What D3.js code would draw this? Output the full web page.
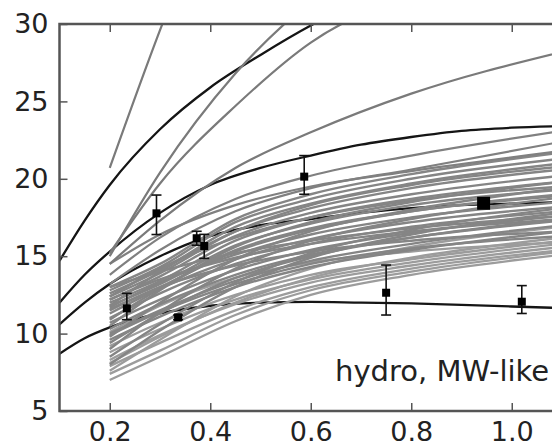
<!DOCTYPE html>
<html><head><meta charset="utf-8">
<script src="https://cdn.jsdelivr.net/npm/d3@7/dist/d3.min.js"></script>
<style>html,body{margin:0;padding:0;background:#fff;}svg{display:block;font-family:"DejaVu Sans",sans-serif;}</style>
</head><body>
<svg id="chart" width="552" height="448"></svg>
<script>
// ---------- data ----------
const xTicks = [0.2, 0.4, 0.6, 0.8, 1.0];
const yTicks = [5, 10, 15, 20, 25, 30];
const xTickLabels = ["0.2", "0.4", "0.6", "0.8", "1.0"];
const yTickLabels = ["5", "10", "15", "20", "25", "30"];

// black model curves
const blackX = [0.1, 0.15, 0.2, 0.3, 0.4, 0.5, 0.6, 0.7, 0.8, 0.9, 1.0, 1.1];
const blackA = [14.7, 17.3, 19.6, 23.2, 25.9, 28.0, 29.9, 31.5, 33.0, 34.3, 35.5, 36.6];
const blackB = [12.0, 13.8, 15.3, 17.8, 19.6, 20.7, 21.5, 22.2, 22.7, 23.1, 23.3, 23.4];
const blackC = [10.6, 12.0, 13.2, 15.0, 16.3, 17.0, 17.4, 17.8, 18.1, 18.3, 18.4, 18.5];
const blackD = [8.7, 9.7, 10.4, 11.3, 11.8, 12.0, 12.05, 12.0, 11.95, 11.85, 11.75, 11.65];

// grey simulated curves
const greyX = [0.2, 0.3, 0.45, 0.6, 0.8, 1.1];
const greyLow = [
  [7.0, 8.5, 10.8, 12.5, 13.8, 15.1],
  [7.4, 8.9, 11.2, 12.8, 14.0, 15.3],
  [7.9, 9.4, 11.5, 13.0, 14.2, 15.4],
  [8.1, 9.8, 12.0, 13.6, 14.9, 16.2],
  [8.3, 9.9, 11.9, 13.3, 14.4, 15.6],
  [8.8, 10.3, 12.2, 13.5, 14.6, 15.8],
  [9.2, 10.7, 12.5, 13.8, 14.8, 16.0],
  [7.6, 9.6, 12.4, 14.2, 15.6, 16.9],
  [10.1, 11.8, 13.6, 14.6, 15.3, 15.9]
];
const greyMid = [
  [9.6, 11.1, 13.0, 14.3, 15.4, 16.6],
  [9.4, 11.3, 13.6, 15.0, 16.2, 17.4],
  [9.9, 11.4, 13.2, 14.5, 15.5, 16.3],
  [10.0, 11.5, 13.4, 14.7, 15.8, 17.0],
  [10.3, 11.9, 13.8, 15.1, 16.2, 17.3],
  [10.7, 12.2, 14.1, 15.4, 16.5, 17.6],
  [10.9, 12.9, 15.3, 16.7, 17.9, 19.0],
  [11.0, 12.6, 14.5, 15.8, 16.9, 17.9],
  [11.3, 12.9, 14.8, 16.1, 17.2, 18.2],
  [11.7, 13.3, 15.1, 16.4, 17.5, 18.5],
  [12.4, 14.2, 16.2, 17.5, 18.6, 19.5],
  [8.0, 10.2, 13.0, 14.9, 16.4, 17.8],
  [9.0, 11.4, 14.2, 16.0, 17.4, 18.8],
  [10.5, 12.8, 15.6, 17.2, 18.5, 19.8],
  [11.5, 13.0, 14.4, 15.3, 16.0, 16.6],
  [12.2, 13.5, 14.9, 15.8, 16.6, 17.4],
  [13.0, 14.0, 15.2, 16.0, 16.8, 17.6],
  [8.5, 10.6, 13.3, 15.2, 16.7, 18.1],
  [9.8, 12.0, 14.8, 16.6, 18.0, 19.4],
  [11.8, 14.0, 16.6, 18.3, 19.6, 20.8]
];
const greyHigh = [
  [11.6, 13.0, 15.4, 16.8, 17.9, 18.9],
  [11.8, 13.2, 15.7, 17.1, 18.3, 19.3],
  [12.0, 13.4, 16.0, 17.5, 18.7, 19.8],
  [12.2, 13.7, 16.3, 17.8, 19.0, 20.2],
  [12.4, 13.9, 16.6, 18.1, 19.4, 20.6],
  [12.6, 14.1, 16.9, 18.4, 19.7, 21.0],
  [12.8, 14.3, 17.2, 18.7, 20.0, 21.3],
  [13.0, 14.5, 17.4, 19.0, 20.3, 21.7]
];
const greyUpper = [
  [13.8, 16.2, 18.7, 20.2, 21.5, 23.1],
  [13.2, 15.4, 17.9, 19.4, 20.6, 22.4],
  [14.5, 16.4, 18.3, 19.5, 20.5, 21.8]
];
const greySteep = [
  [20.7, 29.6, 41.5, 52.0, 64.0, 80.0],
  [15.0, 20.4, 26.8, 31.5, 36.0, 42.0],
  [15.2, 19.7, 24.7, 28.8, 32.0, 35.0],
  [14.5, 17.3, 20.7, 23.0, 25.5, 28.2]
];

// observed points
const ptX   = [0.234, 0.293, 0.336, 0.373, 0.388, 0.587, 0.750, 0.944, 1.020];
const ptY   = [11.63, 17.77, 11.05, 16.16, 15.66, 20.14, 12.64, 18.42, 12.06];
const ptHi  = [0.97, 1.18, 0.15, 0.45, 0.75, 1.36, 1.79, 0.0, 1.04];
const ptLo  = [0.73, 1.37, 0.15, 0.45, 0.80, 1.14, 1.44, 0.0, 0.76];
const ptBig = [false, false, false, false, false, false, false, true, false];

const label = "hydro, MW-like";

// ---------- drawing ----------
const svg = d3.select("#chart");
const x = d3.scaleLinear().domain([0.1, 1.1]).range([59.5, 562]);
const y = d3.scaleLinear().domain([5, 30]).range([411, 24]);

svg.append("defs").append("clipPath").attr("id", "clip")
  .append("rect").attr("x", x(0.1)).attr("y", y(30))
  .attr("width", x(1.1) - x(0.1)).attr("height", y(5) - y(30));

const plot = svg.append("g").attr("clip-path", "url(#clip)");
const line = d3.line().x(d => x(d[0])).y(d => y(d[1])).curve(d3.curveMonotoneX);

[blackA, blackB, blackC, blackD].forEach(vals => {
  plot.append("path").attr("d", line(blackX.map((xv, i) => [xv, vals[i]])))
    .attr("fill", "none").attr("stroke", "#151515").attr("stroke-width", 2.3);
});

function greyGroup(arr, color, w) {
  arr.forEach(vals => {
    plot.append("path").attr("d", line(greyX.map((xv, i) => [xv, vals[i]])))
      .attr("fill", "none").attr("stroke", color).attr("stroke-width", w);
  });
}
greyGroup(greyLow, "#9c9c9c", 2.3);
greyGroup(greyMid, "#858585", 2.4);
greyGroup(greyHigh, "#858585", 2.4);
greyGroup(greyUpper, "#808080", 2.2);
greyGroup(greySteep, "#7a7a7a", 2.2);

// error bars + points
const pts = svg.append("g");
ptX.forEach((xv, i) => {
  const cx = x(xv), cy = y(ptY[i]);
  if (ptHi[i] > 0 || ptLo[i] > 0) {
    const yt = y(ptY[i] + ptHi[i]), yb = y(ptY[i] - ptLo[i]);
    pts.append("line").attr("x1", cx).attr("x2", cx).attr("y1", yt).attr("y2", yb)
      .attr("stroke", "#111").attr("stroke-width", 1.6);
    [yt, yb].forEach(yy => pts.append("line").attr("x1", cx - 5).attr("x2", cx + 5)
      .attr("y1", yy).attr("y2", yy).attr("stroke", "#111").attr("stroke-width", 1.6));
  }
  const s = ptBig[i] ? 13 : 8;
  pts.append("rect").attr("x", cx - s / 2).attr("y", cy - s / 2)
    .attr("width", s).attr("height", s).attr("fill", "#000");
});

// frame
svg.append("rect").attr("x", x(0.1)).attr("y", y(30))
  .attr("width", x(1.1) - x(0.1)).attr("height", y(5) - y(30))
  .attr("fill", "none").attr("stroke", "#555").attr("stroke-width", 2.5);

// axes
const fs = "27px";
const gx = svg.append("g").attr("transform", `translate(0,${y(5)})`)
  .call(d3.axisBottom(x).tickValues(xTicks).tickFormat((d, i) => xTickLabels[i]).tickSize(-8).tickPadding(11));
const gxt = svg.append("g").attr("transform", `translate(0,${y(30)})`)
  .call(d3.axisTop(x).tickValues(xTicks).tickFormat("").tickSize(-8));
const gy = svg.append("g").attr("transform", `translate(${x(0.1)},0)`)
  .call(d3.axisLeft(y).tickValues(yTicks).tickFormat((d, i) => yTickLabels[i]).tickSize(-8).tickPadding(11));
[gx, gxt, gy].forEach(g => {
  g.select(".domain").remove();
  g.selectAll(".tick line").attr("stroke", "#555").attr("stroke-width", 1.5);
  g.selectAll("text").attr("fill", "#222").style("font-size", fs)
    .style("font-family", "'DejaVu Sans', sans-serif");
});

svg.append("text").attr("x", 335).attr("y", 381).text(label)
  .attr("fill", "#222").style("font-size", "29px")
  .style("font-family", "'DejaVu Sans', sans-serif");
</script>
</body></html>
